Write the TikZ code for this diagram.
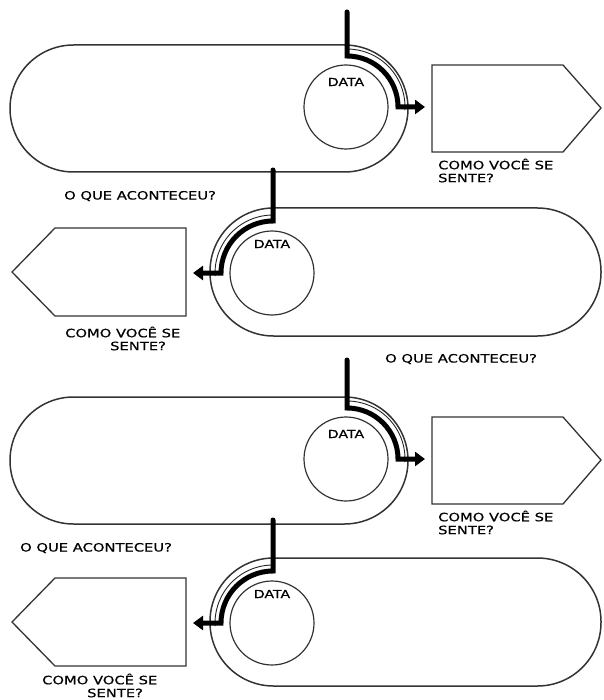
\documentclass[tikz,border=0pt]{standalone}
\usepackage{fontspec}
\setmainfont{DejaVu Sans}
\newfontfamily\comicfont[FakeStretch=1.28, FakeBold=0.6]{DejaVu Sans}
\usetikzlibrary{arrows.meta}

\tikzset{
  pill/.style={draw=black!80, line width=1.5pt, rounded corners=63.5pt},
  datacircle/.style={circle, draw=black!80, line width=1.2pt, inner sep=0pt, minimum size=84pt},
  feelbox/.style={draw=black!80, line width=1.3pt, line join=miter},
  lbl/.style={font=\comicfont\fontsize{11.5}{13}\selectfont, anchor=west, inner sep=0pt},
  datalbl/.style={font=\comicfont\fontsize{11}{12}\selectfont, inner sep=0pt},
  rim/.style={draw=black!85, line width=0.9pt},
  timeline/.style={line width=5pt, line cap=round, -{Triangle[length=10pt,width=14pt]}, shorten >=7pt}
}

\begin{document}
\begin{tikzpicture}[x=1pt, y=-1pt]
\useasboundingbox (0,0) rectangle (603,700);
% rows going right
\foreach \o/\lx/\ty in {0/64/12, 352/20/360} {
  \draw[pill] (10,45+\o) rectangle (408,172+\o);
  \node[datacircle] (data-\o) at (346,107+\o) {};
  \node[datalbl] at (346,82+\o) {DATA};
  \draw[feelbox] (432,65+\o) -- (563,65+\o) -- (601,108+\o) -- (563,152+\o) -- (432,152+\o) -- cycle;
  \coordinate (feel-\o) at (432,107+\o);
  \coordinate (top-\o) at (347,\ty);
  \draw[rim] (347,49+\o) arc[start angle=-90, end angle=3, radius=58];
  \draw[timeline] (top-\o) -- (347,56+\o) arc[start angle=-90, end angle=0, radius=51] -- (feel-\o);
  \node[lbl] at (438,164+\o) {COMO VOCÊ SE};
  \node[lbl] at (438,178+\o) {SENTE?};
  \node[lbl] at (\lx,196+\o) {O QUE ACONTECEU?};
}
% rows going left
\foreach \o/\dx/\cy in {0/0/332, 350/-23/329} {
  \draw[pill] (210,208+\o) rectangle (601,336+\o);
  \node[datacircle] (data-b\o) at (272,273+\o) {};
  \node[datalbl] at (272,244+\o) {DATA};
  \draw[feelbox] (12,272+\o) -- (55,228+\o) -- (186,228+\o) -- (186,316+\o) -- (55,316+\o) -- cycle;
  \coordinate (feel-b\o) at (186,273+\o);
  \coordinate (top-b\o) at (273,170+\o);
  \draw[rim] (273,215+\o) arc[start angle=-90, end angle=-183, radius=58];
  \draw[timeline] (top-b\o) -- (273,221+\o) arc[start angle=-90, end angle=-180, radius=52] -- (feel-b\o);
  \node[lbl] at (65+\dx,\cy+\o) {COMO VOCÊ SE};
  \node[lbl] at (110+\dx,\cy+14+\o) {SENTE?};
}
\node[lbl] at (385,359) {O QUE ACONTECEU?};
\end{tikzpicture}
\end{document}
